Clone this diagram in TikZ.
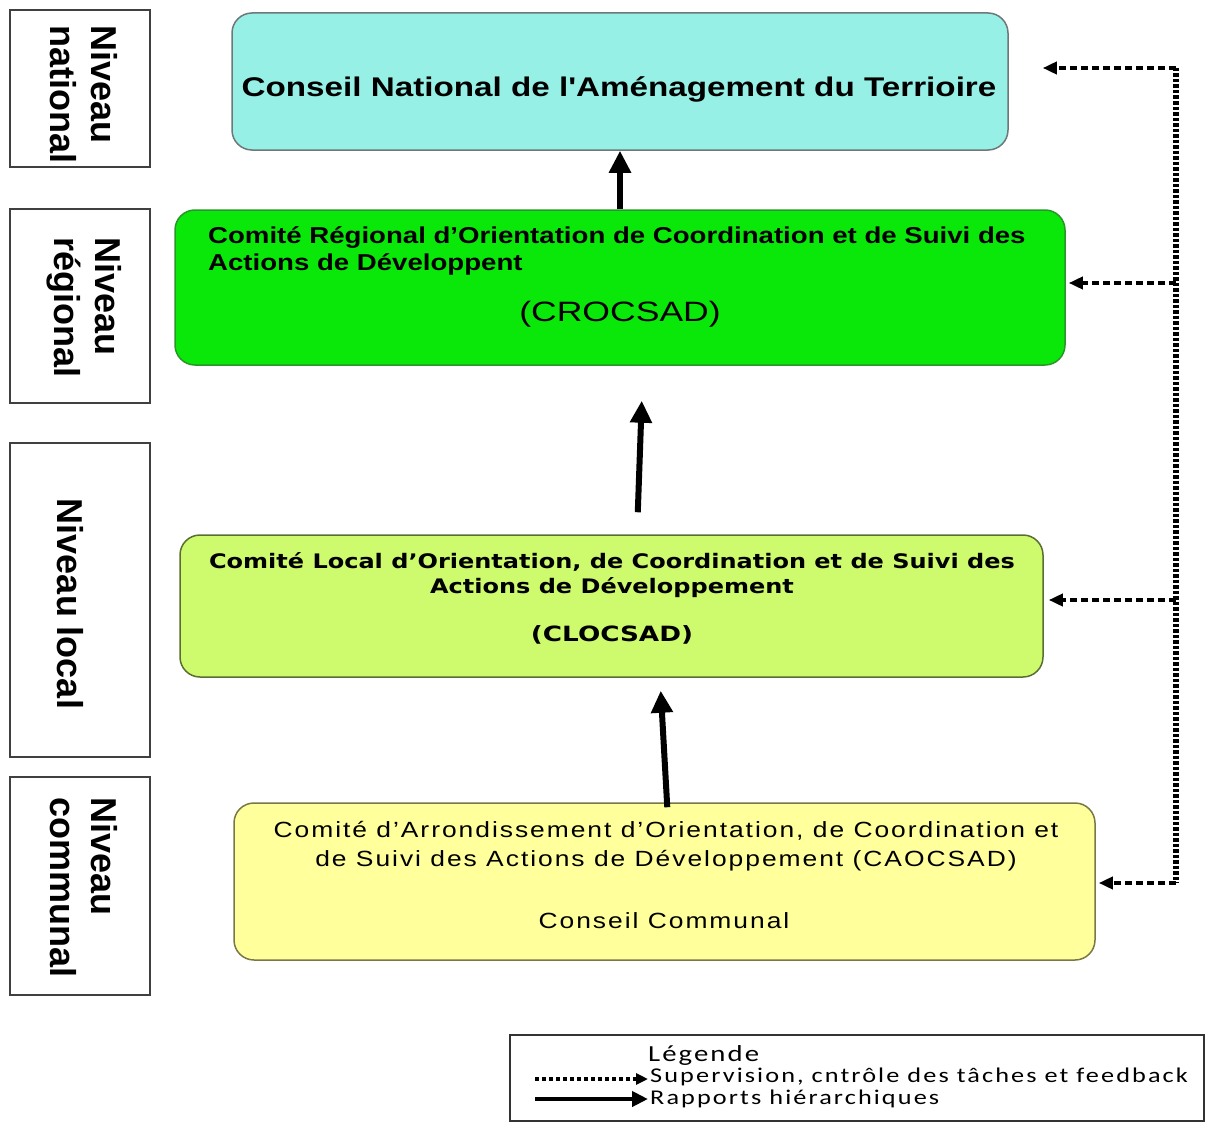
\documentclass[tikz,border=0pt]{standalone}
\usepackage{fontspec}
\setmainfont{Liberation Sans}
\newfontfamily\calib{Carlito}
\newfontfamily\dvs{DejaVu Sans}
\usetikzlibrary{arrows.meta}
\definecolor{natfill}{RGB}{150,240,230}
\definecolor{natdraw}{RGB}{110,120,120}
\definecolor{regfill}{RGB}{10,232,10}
\definecolor{regdraw}{RGB}{40,150,40}
\definecolor{locfill}{RGB}{206,250,110}
\definecolor{locdraw}{RGB}{90,110,50}
\definecolor{comfill}{RGB}{255,255,155}
\definecolor{comdraw}{RGB}{120,120,70}
\newcommand{\fs}[1]{\fontsize{#1pt}{#1pt}\selectfont}
\newcommand{\wide}[1]{\addfontfeature{FakeStretch=#1}}
\begin{document}
\begin{tikzpicture}[x=1pt,y=-1pt,
  box/.style={rounded corners=20pt, line width=1.5pt, inner sep=0pt},
  lvl/.style={draw=black!75, line width=2pt, minimum width=140pt, inner sep=0pt},
  lvltxt/.style={rotate=-90, align=left, font=\fontsize{36pt}{41pt}\selectfont\bfseries, inner sep=0pt},
  hier/.style={line width=6pt, -{Triangle[length=22pt,width=21pt]}},
  sup/.style={line width=4pt, dash pattern=on 7pt off 4pt, -{Triangle[length=14pt,width=12pt]}},
  bus/.style={line width=6pt, dash pattern=on 3.5pt off 2pt}
]
\useasboundingbox (0,0) rectangle (1208,1124);

% level boxes
\node[lvl, minimum height=157pt] (l1) at (80,88.5) {};
\node[lvltxt, anchor=west] (l1t) at (84,25) {Niveau\\national};
\node[lvl, minimum height=194pt] (l2) at (80,306) {};
\node[lvltxt, anchor=west] (l2t) at (84,237) {Niveau\\régional};
\node[lvl, minimum height=314pt] (l3) at (80,600) {};
\node[lvltxt] (l3t) at (70,604) {Niveau local};
\node[lvl, minimum height=218pt] (l4) at (80,886) {};
\node[lvltxt, anchor=west] (l4t) at (84,797) {Niveau\\communal};

% main boxes
\node[box, draw=natdraw, fill=natfill, minimum width=776pt, minimum height=137pt] (nat) at (620,81.5) {};
\node[font=\fs{27}\bfseries\addfontfeature{FakeStretch=1.23,Ligatures=TeXOff}, inner sep=0pt] (natt) at (619,89) {Conseil National de l'Aménagement du Terrioire};

\node[box, draw=regdraw, fill=regfill, minimum width=890pt, minimum height=155pt] (reg) at (620,287.5) {};
\node[font=\fs{23}\bfseries\wide{1.2}, align=left, anchor=north west, inner sep=0pt] (regt) at (208,226) {Comité Régional d’Orientation de Coordination et de Suivi des\\[4pt]Actions de Développent};
\node[font=\fs{28}\wide{1.27}, inner sep=0pt] (regc) at (620,314) {(CROCSAD)};

\node[box, draw=locdraw, fill=locfill, minimum width=863pt, minimum height=142pt] (loc) at (611.5,606) {};
\node[font=\dvs\fs{20}\bfseries\wide{1.2}, align=center, inner sep=0pt] (loct) at (612,575) {Comité Local d’Orientation, de Coordination et de Suivi des\\[5pt]Actions de Développement};
\node[font=\dvs\fs{21}\bfseries\wide{1.25}, inner sep=0pt] (locc) at (612,635) {(CLOCSAD)};

\node[box, draw=comdraw, fill=comfill, minimum width=861pt, minimum height=157pt] (com) at (664.5,881.5) {};
\node[font=\fs{22}\addfontfeature{FakeStretch=1.2,LetterSpace=9}, align=center, inner sep=0pt] (comt) at (666,846) {Comité d’Arrondissement d’Orientation, de Coordination et\\[7pt]de Suivi des Actions de Développement (CAOCSAD)};
\node[font=\fs{22}\addfontfeature{FakeStretch=1.2,LetterSpace=9}, inner sep=0pt] (comc) at (664,921) {Conseil Communal};

% hierarchical arrows
\draw[hier] (reg.north) -- (nat.south);
\draw[hier, shorten <=22pt, shorten >=35pt] ([xshift=25.5pt]loc.north) -- ([xshift=23pt]reg.south);
\draw[hier, shorten <=-5pt, shorten >=13pt] ([xshift=2.5pt]com.north) -- ([xshift=48.5pt]loc.south);

% supervision bus
\coordinate (b1) at (1176,68);
\coordinate (b2) at (1176,283);
\coordinate (b3) at (1176,600);
\coordinate (b4) at (1176,883);
\draw[bus] (b1) -- (b4);
\draw[sup] (b1) -- ([xshift=34pt]b1 -| nat.east);
\draw[sup] (b2) -- ([xshift=3pt]b2 -| reg.east);
\draw[sup] (b3) -- ([xshift=5pt]b3 -| loc.east);
\draw[sup] (b4) -- ([xshift=3pt]b4 -| com.east);

% legend
\node[draw=black!80, line width=1.5pt, minimum width=694pt, minimum height=86pt, inner sep=0pt] (leg) at (857,1078) {};
\node[font=\calib\fs{23}\addfontfeature{FakeStretch=1.25,LetterSpace=9}, anchor=west, inner sep=0pt] (legt) at (648,1055) {Légende};
\coordinate (la1) at (535,1079);
\coordinate (la2) at (648,1079);
\coordinate (lb1) at (535,1099);
\coordinate (lb2) at (648,1099);
\draw[line width=3.5pt, dash pattern=on 3.5pt off 3.5pt, -{Triangle[length=12pt,width=11pt]}] (la1) -- (la2);
\draw[line width=4.5pt, -{Triangle[length=16pt,width=15pt]}] (lb1) -- (lb2);
\node[font=\calib\fs{21}\addfontfeature{FakeStretch=1.25,LetterSpace=10}, anchor=west, inner sep=0pt] (legs) at (650,1077) {Supervision, cntrôle des tâches et feedback};
\node[font=\calib\fs{21}\addfontfeature{FakeStretch=1.25,LetterSpace=10}, anchor=west, inner sep=0pt] (legr) at (650,1099) {Rapports hiérarchiques};
\end{tikzpicture}
\end{document}
